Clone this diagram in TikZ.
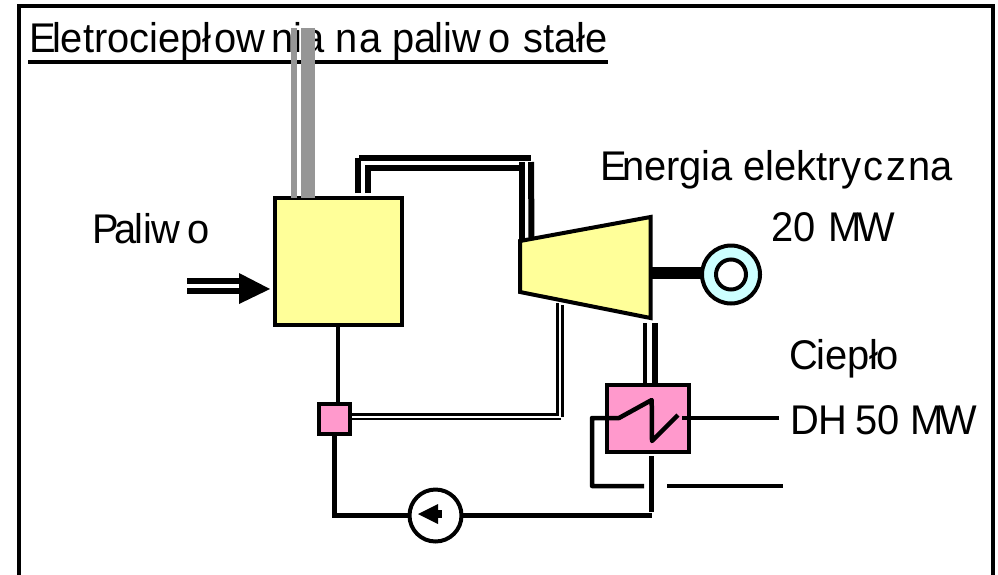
\documentclass[tikz,border=0pt]{standalone}
\usepackage{fontspec}
\setmainfont[FakeStretch=0.96]{Liberation Sans}
\definecolor{boileryellow}{HTML}{FFFF99}
\definecolor{hxpink}{HTML}{FF99CC}
\definecolor{gencyan}{HTML}{CCFFFF}
\definecolor{stackgray}{HTML}{969696}
\begin{document}
\begin{tikzpicture}[x=1pt,y=-1pt,
  lbl/.style={anchor=base west,inner sep=0pt,outer sep=0pt,font=\fontsize{41.5}{44}\selectfont},
  unit/.style={draw,line width=4pt,inner sep=0pt,outer sep=0pt},
  pipe/.style={line width=4.5pt},
  thickpipe/.style={line width=6pt},
  thinpipe/.style={line width=2.5pt}]
\useasboundingbox (0,0) rectangle (998,574);
\draw [line width=4pt] (19,580) -- (19,6) -- (993,6) -- (993,580);

\node [lbl] (title) at (29.5,52) {E\kern-4pt letrociepł\kern3pt ow\kern6pt nia n\kern1.5pt a pa\kern-2pt liw\kern7pt o\kern2pt\ stałe};
\coordinate (titleA) at (28,62);
\coordinate (titleB) at (608,62);
\draw [line width=4pt] (titleA) -- (titleB);

\node [lbl] (fuel) at (92,243) {P\kern-4.5pt a\kern-2pt liw\kern7pt o};
\node [lbl] (power) at (600,180.5) {E\kern-4.5pt nergia elektry\kern2.5pt c\kern2.5pt z\kern2.5pt na};
\node [lbl] (powerval) at (771,241.5) {20\kern2pt\ M\kern-4pt W};
\node [lbl] (heat) at (789.5,369) {C\kern-2pt iepł\kern-1.5pt o};
\node [lbl] (heatval) at (790,434) {DH\kern-3pt\ 50 M\kern-5pt W};

\node [unit,fill=boileryellow,minimum width=127pt,minimum height=127pt] (boiler) at (338.5,261.5) {};
\node [unit,fill=hxpink,minimum width=31pt,minimum height=30pt] (mixer) at (334.5,419) {};
\node [unit,fill=hxpink,minimum width=82pt,minimum height=67pt] (hx) at (648,418.5) {};
\node [unit,circle,fill=white,minimum size=52pt] (pump) at (435.5,515.5) {};

% turbine
\coordinate (turbA) at (520,241);
\coordinate (turbB) at (650.5,217);
\coordinate (turbC) at (650.5,318);
\coordinate (turbD) at (520,292);
\draw [line width=4pt,fill=boileryellow] (turbA) -- (turbB) -- (turbC) -- (turbD) -- cycle;

% generator
\node [unit,circle,fill=gencyan,minimum size=58pt] (gen) at (731,274.5) {};
\node [unit,circle,fill=white,minimum size=30pt] (genin) at (731,274.5) {};
\coordinate (shaftA) at (652,273);
\draw [line width=12pt] (shaftA) -- (gen.west |- shaftA);

% stack
\coordinate (stackA) at (294,28);
\coordinate (stackB) at (308,28);
\draw [stackgray,line width=6pt] (stackA) -- (stackA |- boiler.north);
\draw [stackgray,line width=14pt] (stackB) -- (stackB |- boiler.north);

% steam to turbine
\coordinate (steamA) at (358,193);
\coordinate (steamB) at (358,158);
\coordinate (steamC) at (531,158);
\coordinate (steamD) at (531.5,238);
\coordinate (steamE) at (367.5,193);
\coordinate (steamF) at (367.5,167.5);
\coordinate (steamG) at (522,167.5);
\coordinate (steamH) at (522,240);
\draw [thickpipe] (steamA) -- (steamB);
\draw [thickpipe] (359,158) -- (steamC);
\draw [thickpipe] (steamC |- 0,162) -- (steamD);
\draw [thickpipe] (steamE) -- (steamF) -- (steamG);
\draw [thickpipe] (steamH) -- (522,162);

% extraction
\coordinate (bleedA) at (557.5,303);
\coordinate (bleedB) at (557.5,414.5);
\coordinate (bleedC) at (562.5,305);
\coordinate (bleedD) at (562.5,417);
\draw [thinpipe] (bleedA) -- (bleedB) -- (mixer.east |- bleedB);
\draw [thinpipe] (bleedC) -- (bleedD);
\draw [thinpipe] (mixer.east |- 0,419) -- (561,419);

% turbine to heat exchanger
\coordinate (exhA) at (645,323);
\coordinate (exhB) at (655,323);
\draw [pipe] (exhA) -- (exhA |- hx.north);
\draw [line width=6pt] (exhB) -- (exhB |- hx.north);

% water
\coordinate (condA) at (338,327);
\draw [pipe] (condA) -- (condA |- mixer.north);
\coordinate (returnA) at (334.5,515.7);
\coordinate (returnB) at (651.7,515.7);
\draw [pipe] (mixer.south) -- (returnA) -- (pump.west |- returnA);
\draw [pipe] (pump.east |- returnB) -- (returnB);
\coordinate (hxlow) at (651.7,456);
\coordinate (hxend) at (651.7,512);
\draw [pipe] (hxlow) -- (hxend);

% coil
\coordinate (coilA) at (644,486);
\coordinate (coilB) at (592,486);
\coordinate (coilC) at (592,418);
\coordinate (coilD) at (619,418);
\coordinate (coilE) at (651.7,400);
\coordinate (coilF) at (652,441);
\coordinate (coilG) at (678,415);
\coordinate (outA) at (682,418);
\coordinate (outB) at (779,418);
\coordinate (backA) at (667,486);
\coordinate (backB) at (783,486);
\draw [pipe,line join=round] (coilA) -- (coilB) -- (coilC) -- (coilD) -- (coilE) -- (coilF) -- (coilG);
\draw [pipe] (outA) -- (outB);
\draw [pipe] (backA) -- (backB);

% pump arrow
\coordinate (pumpA) at (418,514);
\coordinate (pumpB) at (438,504);
\coordinate (pumpC) at (438,524);
\fill (pumpA) -- (pumpB) -- (pumpC) -- cycle;
\fill (436,510) rectangle (441.5,518);

% fuel
\coordinate (fuelA) at (187,281);
\coordinate (fuelB) at (240,281);
\coordinate (fuelC) at (187,291);
\coordinate (fuelD) at (240,291);
\draw [thickpipe] (fuelA) -- (fuelB);
\draw [thickpipe] (fuelC) -- (fuelD);
\coordinate (fuelE) at (239,273);
\coordinate (fuelF) at (239,304);
\coordinate (fuelG) at (270,289);
\fill (fuelE) -- (fuelG) -- (fuelF) -- cycle;
\end{tikzpicture}
\end{document}
